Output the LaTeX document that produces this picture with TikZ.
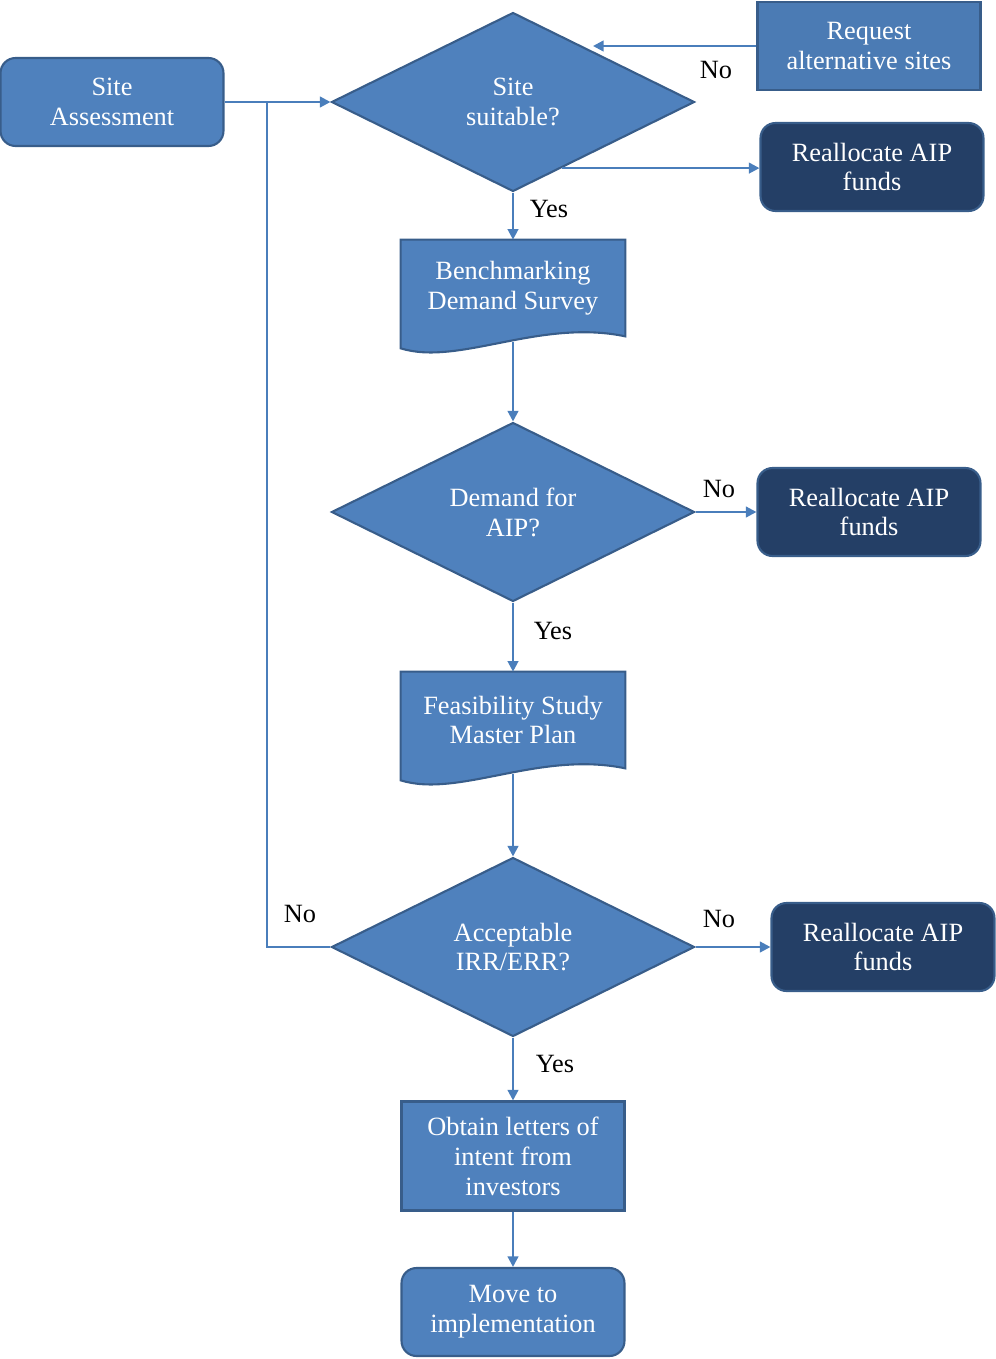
\documentclass[tikz,border=0pt]{standalone}
\usepackage{fontspec}
\setmainfont{Liberation Serif}
\usetikzlibrary{arrows.meta,calc,shapes.geometric,backgrounds}
\definecolor{boxblue}{HTML}{4F81BD}
\definecolor{boxedge}{HTML}{385D8A}
\definecolor{boxnavy}{HTML}{243F66}
\definecolor{linkblue}{HTML}{4A7EBB}

\begin{document}
\begin{tikzpicture}[x=0.02cm,y=-0.02cm,
		txt/.style={font=\fontsize{15}{17}\selectfont},
		proc/.style={txt,draw=boxedge,line width=1.2pt,fill=boxblue,text=white,align=center,minimum width=4.46cm,minimum height=1.76cm,inner sep=2pt},
		term/.style={proc,rounded corners=0.3cm},
		fund/.style={term,fill=boxnavy},
		decide/.style={txt,diamond,draw=boxedge,line width=1.2pt,fill=boxblue,text=white,align=center,shape aspect=2,minimum width=7.26cm,minimum height=3.58cm,inner sep=0pt},
		doc/.style={txt,text=white,align=center,minimum width=4.48cm,minimum height=1.92cm,inner sep=0pt},
		docshape/.style={draw=boxedge,line width=1.2pt,fill=boxblue},
		link/.style={draw=linkblue,line width=1.3pt,-{Triangle[length=6pt,width=6pt]}},
		lbl/.style={txt,text=black}]
		\useasboundingbox (0,0) rectangle (995,1359);
		% main column
		\node[term] (sa) at (112,102) {Site\\Assessment};
		\node[decide] (d1) at (513,102) {Site\\suitable?};
		\node[doc] (bench) at (513,288) {Benchmarking\\Demand Survey};
		\node[decide] (d2) at (513,512) {Demand for\\AIP?};
		\node[doc] (feas) at (513,720) {Feasibility Study\\Master Plan};
		\node[decide] (d3) at (513,947) {Acceptable\\IRR/ERR?};
		\node[proc,minimum height=2.18cm] (obt) at (513,1156) {Obtain letters of\\intent from\\investors};
		\node[term] (move) at (513,1312) {Move to\\implementation};
		% side boxes
		\node[proc,fill=boxblue!95!black] (req) at (869,46) {Request\\alternative sites};
		\node[fund] (r1) at (872,167) {Reallocate AIP\\funds};
		\node[fund] (r2) at (869,512) {Reallocate AIP\\funds};
		\node[fund] (r3) at (883,947) {Reallocate AIP\\funds};
		\begin{pgfonlayer}{background}
			\foreach \d in {bench,feas}
				\draw[docshape] (\d.south east) -- (\d.north east) -- (\d.north west) -- ($(\d.south west)+(0,12)$) .. controls ($(\d.south west)+(58,30)$) and ($(\d.south east)+(-86,-18)$) .. (\d.south east) -- cycle;
		\end{pgfonlayer}
		\coordinate (benchout) at ($(bench.south)+(0,6)$);
		\coordinate (feasout) at ($(feas.south)+(0,6)$);
		\coordinate (d1out) at ($(d1.east)!0.73!(d1.south)$);
		\coordinate (reqin) at (593,46);
		\coordinate (loop) at (267,102);
		% connectors
		\draw[link] (sa) -- (d1);
		\draw[link] (d1.south) -- (bench.north);
		\draw[link] (benchout) -- (d2.north);
		\draw[link] (d2.south) -- (feas.north);
		\draw[link] (feasout) -- (d3.north);
		\draw[link] (d3.south) -- (obt.north);
		\draw[link] (obt.south) -- (move.north);
		\draw[link] (req.west) -- (reqin);
		\draw[link] (d1out) -- (d1out -| r1.west);
		\draw[link] (d2.east) -- (r2.west);
		\draw[link] (d3.east) -- (r3.west);
		\draw[link,-] (d3.west) -| (loop);
		% labels
		\node[lbl] (no1) at (716,70) {No};
		\node[lbl] (yes1) at (549,209) {Yes};
		\node[lbl] (no2) at (719,489) {No};
		\node[lbl] (yes2) at (553,631) {Yes};
		\node[lbl] (no3) at (719,919) {No};
		\node[lbl] (no4) at (300,914) {No};
		\node[lbl] (yes3) at (555,1064) {Yes};
	\end{tikzpicture}
\end{document}
